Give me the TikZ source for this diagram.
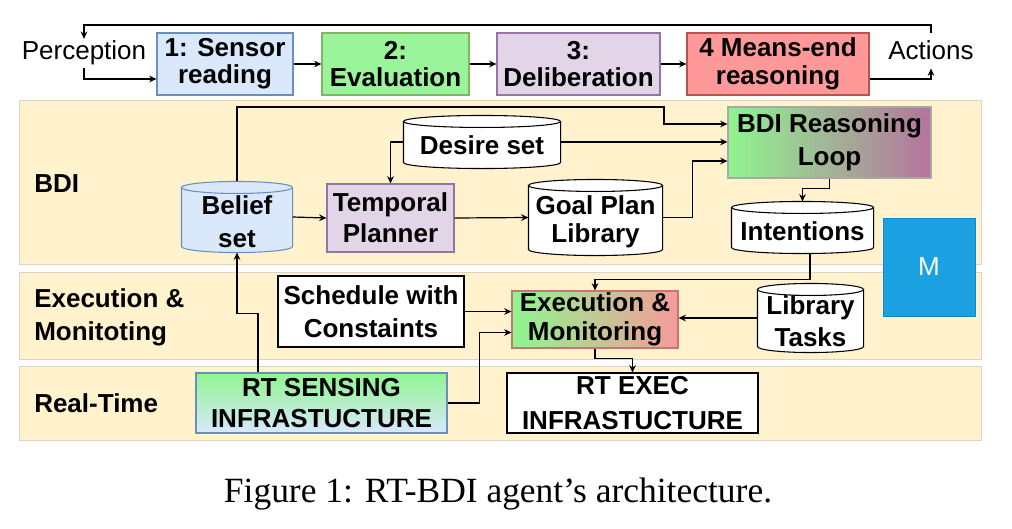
\documentclass[tikz,border=0pt]{standalone}
\usepackage{fontspec}
\setmainfont{Liberation Serif}
\setsansfont{Liberation Sans}
\usetikzlibrary{arrows.meta,calc}
\pgfdeclarelayer{lanes}
\pgfdeclarelayer{bg}
\pgfsetlayers{lanes,bg,main}
\definecolor{laneY}{HTML}{FFF2CC}
\definecolor{laneB}{HTML}{D9D4C4}
\definecolor{bluF}{HTML}{DAE8FC}
\definecolor{bluD}{HTML}{6C8EBF}
\definecolor{grnF}{HTML}{9AF59A}
\definecolor{grnD}{HTML}{82B366}
\definecolor{grnG}{HTML}{8FF58F}
\definecolor{purF}{HTML}{E1D5E7}
\definecolor{purD}{HTML}{9673A6}
\definecolor{redF}{HTML}{FF9999}
\definecolor{redD}{HTML}{B85450}
\definecolor{mauve}{HTML}{B5739D}
\definecolor{pinkR}{HTML}{F49C9A}
\definecolor{mBlue}{HTML}{1BA1E2}
\definecolor{greyD}{HTML}{A8A8A8}
\newcommand\cylshape[3]{%
 \begin{pgfonlayer}{bg}
 \path[fill=#2,draw=#3,line width=0.8pt] let \p1=(#1.north west), \p2=(#1.south east), \n1={(\x2-\x1)/2} in
  (\x1,\y1-4.5pt) -- (\x1,\y2+4.5pt) arc[start angle=180,end angle=360,x radius=\n1,y radius=4.5pt]
  -- (\x2,\y1-4.5pt) arc[start angle=0,end angle=180,x radius=\n1,y radius=4.5pt] -- cycle;
 \path[draw=#3,line width=0.8pt] let \p1=(#1.north west), \p2=(#1.south east), \n1={(\x2-\x1)/2} in
  (\x1,\y1-4.5pt) arc[start angle=180,end angle=360,x radius=\n1,y radius=4.5pt];
 \end{pgfonlayer}}
\begin{document}
\begin{tikzpicture}[x=0.75pt,y=-0.75pt,
  arr/.style={draw, line width=0.9pt, -{Stealth[length=5.5pt,width=5pt]}},
  wh/.style 2 args={minimum width=#1*0.75pt, minimum height=#2*0.75pt},
  box/.style={line width=0.8pt, inner sep=0pt, align=center, font=\sffamily\bfseries\fontsize{19.5}{23}\selectfont},
  cyltext/.style={box, yshift=-#1*0.75pt},
  topbox/.style={box, font=\sffamily\bfseries\fontsize{19.5}{20.5}\selectfont},
  plain/.style={inner xsep=0pt, font=\sffamily\fontsize{19.5}{23}\selectfont},
  lanelabel/.style={inner sep=0pt, align=left, anchor=west, font=\sffamily\bfseries\fontsize{19.5}{25}\selectfont},
  lane/.style={fill=laneY, draw=laneB, line width=0.6pt}]
\useasboundingbox (0,0) rectangle (1012,528);

% lanes
\begin{pgfonlayer}{lanes}
\path[lane] (19,100) rectangle (981,264);
\path[lane] (19,272) rectangle (981,359);
\path[lane] (19,366) rectangle (981,440);
\end{pgfonlayer}
\node[lanelabel, anchor=base west] (lbdi) at (34,192) {BDI};
\node[lanelabel] (lexec) at (34,317) {Execution \&\\Monitoting};
\node[lanelabel, anchor=base west] (lrt) at (34,412) {Real-Time};

% top strip
\node[plain, anchor=base, inner ysep=1.5pt] (perc) at (84,60) {Perception};
\node[plain, anchor=base, inner ysep=6pt] (actions) at (931,60) {Actions};
\node[topbox, wh={136}{62}, fill=bluF, draw=bluD] (s1) at (225,64) {1: Sensor\\reading};
\node[topbox, wh={147}{62}, fill=grnF, draw=grnD] (s2) at (395.5,64) {2:\\Evaluation};
\node[topbox, wh={163}{62}, fill=purF, draw=purD] (s3) at (578.5,64) {3:\\Deliberation};
\node[topbox, wh={182}{62}, fill=redF, draw=redD] (s4) at (778,64) {4 Means-end\\reasoning};
\coordinate (fb) at (500,25);
\draw[arr] (actions.north) |- (fb) -| (perc.north);
\draw[arr] (perc.south) |- ($(s1.west)+(0,15)$);
\draw[arr] (s1.east) -- (s2.west);
\draw[arr] (s2.east) -- (s3.west);
\draw[arr] (s3.east) -- (s4.west);
\draw[arr] ($(s4.east)+(0,15)$) -| (actions.south);

% BDI lane
\node[box, wh={110}{70}] (belief) at (237,217) {};
\cylshape{belief}{bluF}{bluD}
\node[cyltext=5, font=\sffamily\bfseries\fontsize{19.5}{24.5}\selectfont] (belieftext) at (belief) {Belief\\set};
\node[box, wh={127}{68}, fill=purF, draw=purD] (temporal) at (390.5,218) {Temporal\\Planner};
\node[box, wh={156}{52}] (desire) at (482,142) {};
\cylshape{desire}{white}{black}
\node[cyltext=3.5] (desiretext) at (desire) {Desire set};
\node[box, wh={133}{75}] (goal) at (595.5,217.5) {};
\cylshape{goal}{white}{black}
\node[cyltext=4.5, font=\sffamily\bfseries\fontsize{19.5}{21}\selectfont] (goaltext) at (goal) {Goal Plan\\Library};
\node[box, wh={203}{71}, left color=grnG, right color=mauve, draw=greyD, font=\sffamily\bfseries\fontsize{19.5}{24.5}\selectfont] (bdi) at (829.5,142.5) {BDI Reasoning\\Loop};
\node[box, wh={141}{51}] (intent) at (802.5,227.5) {};
\cylshape{intent}{white}{black}
\node[cyltext=4] (intenttext) at (intent) {Intentions};
\node[plain, inner sep=0pt, wh={92}{98}, fill=mBlue, draw=mBlue!85!black, text=white] (m) at (929,267) {M};

\coordinate (k1) at (664,107);
\draw[arr] (belief.north) |- (k1) |- ($(bdi.west)+(0,-18.5)$);
\draw[arr] (desire.east) -- (bdi.west |- desire.east);
\draw[arr] (goal.east) -- ++(30,0) |- ($(bdi.west)+(0,18.5)$);
\draw[arr] (desire.west) -| (temporal.north);
\draw[arr] (belief.east) -- (temporal.west);
\draw[arr] (temporal.east) -- (goal.west);
\draw[arr] (bdi.south) -- ++(0,10) -| (intent.north);

% Execution lane
\node[box, wh={186}{71}, fill=white, draw=black, font=\sffamily\bfseries\fontsize{19.5}{24.5}\selectfont] (sched) at (371,311.5) {Schedule with\\Constaints};
\node[box, wh={166}{57}, left color=grnG, right color=pinkR, draw=redD!80, font=\sffamily\bfseries\fontsize{19.5}{21.5}\selectfont] (exec) at (595,319.5) {Execution \&\\Monitoring};
\node[box, wh={105}{68}] (libt) at (810.5,318) {};
\cylshape{libt}{white}{black}
\node[cyltext=3.5, font=\sffamily\bfseries\fontsize{19.5}{24}\selectfont] (libttext) at (libt) {Library\\Tasks};

% Real-time lane
\node[box, wh={251}{60}, top color=grnG, bottom color=bluF, draw=bluD] (rts) at (321.5,403) {RT SENSING\\INFRASTUCTURE};
\node[box, wh={251}{60}, fill=white, draw=black, font=\sffamily\bfseries\fontsize{19.5}{26}\selectfont] (rte) at (632.5,403) {RT EXEC\\INFRASTUCTURE};

\draw[arr] ($(intent.south)+(7.5,0)$) -- ++(0,26) -| (exec.north);
\draw[arr] (sched.east) -- (exec.west |- sched.east);
\draw[arr] (rts.east) -- ++(32,0) |- ($(exec.west)+(0,13)$);
\draw[arr] (libt.west) -- (exec.east |- libt.west);
\draw[arr] (exec.south) -- ++(0,10) -| (rte.north);
\draw[arr] ($(rts.north)+(-63.5,0)$) -- ++(0,-59) -| (belief.south);

% caption
\node[inner sep=0pt, anchor=base, font=\fontsize{26.6}{30}\selectfont] (cap) at (498,502) {Figure 1: RT-BDI agent’s architecture.};
\end{tikzpicture}
\end{document}
